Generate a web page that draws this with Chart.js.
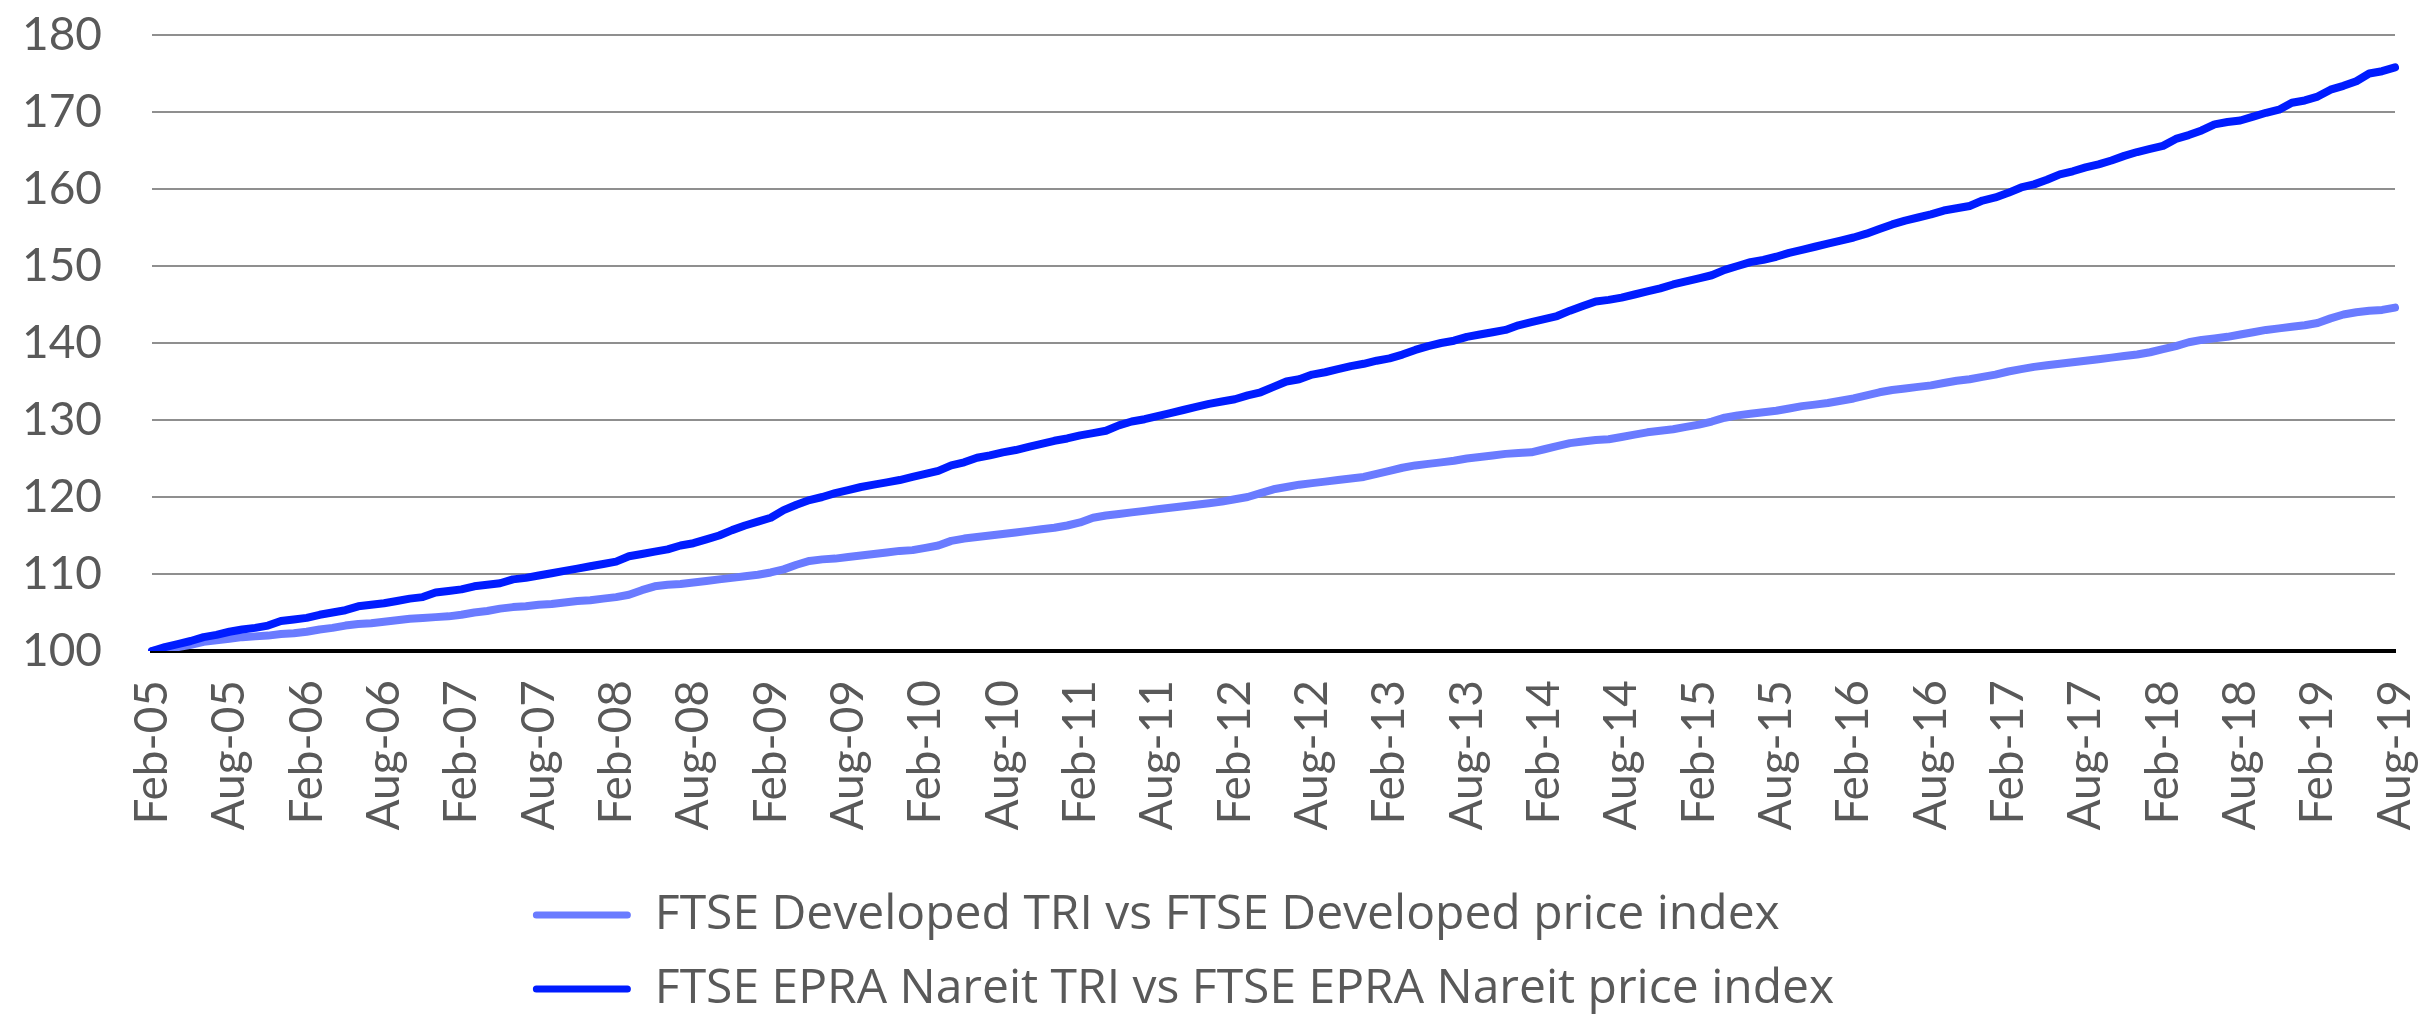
<!DOCTYPE html>
<html>
<head>
<meta charset="utf-8">
<script src="https://cdn.jsdelivr.net/npm/chart.js@4.4.1/dist/chart.umd.min.js"></script>
<style>
  html, body { margin: 0; padding: 0; background: #fff; }
  #wrap { width: 2418px; height: 1023px; }
</style>
</head>
<body>
<div id="wrap"><canvas id="chart"></canvas></div>
<script>
// month categories, Feb-05 .. Aug-19
const MONTH_NAMES = ["Jan", "Feb", "Mar", "Apr", "May", "Jun", "Jul", "Aug", "Sep", "Oct", "Nov", "Dec"];
const months = [];
for (let y = 2005; y <= 2019; y++) {
  for (let m = 0; m < 12; m++) {
    if ((y === 2005 && m < 1) || (y === 2019 && m > 7)) continue;
    months.push(MONTH_NAMES[m] + "-" + String(y).slice(2));
  }
}

const yTicks = [100, 110, 120, 130, 140, 150, 160, 170, 180];

// FTSE Developed TRI vs price index (rebased to 100)
const developed = [
  100.0, 100.2, 100.5, 100.8, 101.2, 101.4, 101.6, 101.8, 101.9, 102.0, 102.2, 102.3,
  102.5, 102.8, 103.0, 103.3, 103.5, 103.6, 103.8, 104.0, 104.2, 104.3, 104.4, 104.5,
  104.7, 105.0, 105.2, 105.5, 105.7, 105.8, 106.0, 106.1, 106.3, 106.5, 106.6, 106.8,
  107.0, 107.3, 107.9, 108.4, 108.6, 108.7, 108.9, 109.1, 109.3, 109.5, 109.7, 109.9,
  110.2, 110.6, 111.2, 111.7, 111.9, 112.0, 112.2, 112.4, 112.6, 112.8, 113.0, 113.1,
  113.4, 113.7, 114.3, 114.6, 114.8, 115.0, 115.2, 115.4, 115.6, 115.8, 116.0, 116.3,
  116.7, 117.3, 117.6, 117.8, 118.0, 118.2, 118.4, 118.6, 118.8, 119.0, 119.2, 119.4,
  119.7, 120.0, 120.5, 121.0, 121.3, 121.6, 121.8, 122.0, 122.2, 122.4, 122.6, 123.0,
  123.4, 123.8, 124.1, 124.3, 124.5, 124.7, 125.0, 125.2, 125.4, 125.6, 125.7, 125.8,
  126.2, 126.6, 127.0, 127.2, 127.4, 127.5, 127.8, 128.1, 128.4, 128.6, 128.8, 129.1,
  129.4, 129.8, 130.3, 130.6, 130.8, 131.0, 131.2, 131.5, 131.8, 132.0, 132.2, 132.5,
  132.8, 133.2, 133.6, 133.9, 134.1, 134.3, 134.5, 134.8, 135.1, 135.3, 135.6, 135.9,
  136.3, 136.6, 136.9, 137.1, 137.3, 137.5, 137.7, 137.9, 138.1, 138.3, 138.5, 138.8,
  139.2, 139.6, 140.1, 140.4, 140.6, 140.8, 141.1, 141.4, 141.7, 141.9, 142.1, 142.3,
  142.6, 143.2, 143.7, 144.0, 144.2, 144.3, 144.6,
];

// FTSE EPRA Nareit TRI vs price index (rebased to 100)
const epraNareit = [
  100.0, 100.5, 100.9, 101.3, 101.8, 102.1, 102.5, 102.8, 103.0, 103.3, 103.9, 104.1,
  104.3, 104.7, 105.0, 105.3, 105.8, 106.0, 106.2, 106.5, 106.8, 107.0, 107.6, 107.8,
  108.0, 108.4, 108.6, 108.8, 109.3, 109.5, 109.8, 110.1, 110.4, 110.7, 111.0, 111.3,
  111.6, 112.3, 112.6, 112.9, 113.2, 113.7, 114.0, 114.5, 115.0, 115.7, 116.3, 116.8,
  117.3, 118.3, 119.0, 119.6, 120.0, 120.5, 120.9, 121.3, 121.6, 121.9, 122.2, 122.6,
  123.0, 123.4, 124.1, 124.5, 125.1, 125.4, 125.8, 126.1, 126.5, 126.9, 127.3, 127.6,
  128.0, 128.3, 128.6, 129.3, 129.8, 130.1, 130.5, 130.9, 131.3, 131.7, 132.1, 132.4,
  132.7, 133.2, 133.6, 134.3, 135.0, 135.3, 135.9, 136.2, 136.6, 137.0, 137.3, 137.7,
  138.0, 138.5, 139.1, 139.6, 140.0, 140.3, 140.8, 141.1, 141.4, 141.7, 142.3, 142.7,
  143.1, 143.5, 144.2, 144.8, 145.4, 145.6, 145.9, 146.3, 146.7, 147.1, 147.6, 148.0,
  148.4, 148.8, 149.5, 150.0, 150.5, 150.8, 151.2, 151.7, 152.1, 152.5, 152.9, 153.3,
  153.7, 154.2, 154.8, 155.4, 155.9, 156.3, 156.7, 157.2, 157.5, 157.8, 158.5, 158.9,
  159.5, 160.2, 160.6, 161.2, 161.9, 162.3, 162.8, 163.2, 163.7, 164.3, 164.8, 165.2,
  165.6, 166.5, 167.0, 167.6, 168.4, 168.7, 168.9, 169.4, 169.9, 170.3, 171.2, 171.5,
  172.0, 172.9, 173.4, 174.0, 175.0, 175.3, 175.8,
];

const TEXT = "#595959";
const LIGHT = "#6A7BFF";
const DARK = "#001CFF";
const TICK_FONT = { family: "Lato, sans-serif", size: 46 };

// keep both legend rows starting at the same x (block sits a little left of centre)
const legendRowAlign = {
  id: "legendRowAlign",
  beforeDraw(chart) {
    const legend = chart.legend;
    if (!legend || !legend.lineWidths) return;
    const widest = Math.max(...legend.lineWidths) + 50;
    legend.lineWidths = legend.lineWidths.map(() => widest);
  },
};

new Chart(document.getElementById("chart"), {
  type: "line",
  data: {
    labels: months,
    datasets: [
      {
        label: "FTSE Developed TRI vs FTSE Developed price index",
        data: developed,
        borderColor: LIGHT,
        backgroundColor: LIGHT,
        borderWidth: 8,
        order: 1,
      },
      {
        label: "FTSE EPRA Nareit TRI vs FTSE EPRA Nareit price index",
        data: epraNareit,
        borderColor: DARK,
        backgroundColor: DARK,
        borderWidth: 8,
        order: 0,
      },
    ],
  },
  options: {
    responsive: true,
    maintainAspectRatio: false,
    animation: false,
    layout: { padding: { left: 22, right: 23, top: 0, bottom: 0 } },
    elements: {
      point: { radius: 0 },
      line: { tension: 0, borderCapStyle: "round", borderJoinStyle: "round" },
    },
    plugins: {
      tooltip: { enabled: false },
      legend: {
        position: "bottom",
        labels: {
          color: TEXT,
          font: { family: "'Open Sans', sans-serif", size: 48 },
          boxWidth: 98,
          boxHeight: 7,
          padding: 26,
          generateLabels(chart) {
            const items = Chart.defaults.plugins.legend.labels.generateLabels(chart);
            return items
              .map((item) => ({ ...item, lineWidth: 0, borderRadius: 3.5 }))
              .sort((a, b) => a.datasetIndex - b.datasetIndex);
          },
        },
      },
    },
    scales: {
      x: {
        grid: { display: false, drawTicks: false },
        border: { display: true, color: "#000000", width: 4 },
        ticks: {
          color: TEXT,
          font: TICK_FONT,
          autoSkip: false,
          minRotation: 90,
          maxRotation: 90,
          padding: 29,
          callback: (value, index) => (index % 6 === 0 ? months[index] : null),
        },
        afterFit(scale) {
          scale.height = 214;
          scale.paddingLeft = 0;
          scale.paddingRight = 0;
        },
      },
      y: {
        min: 100,
        max: 180,
        afterBuildTicks(scale) {
          scale.ticks = yTicks.map((v) => ({ value: v }));
        },
        afterFit(scale) {
          scale.width = 130;
          scale.paddingTop = 35;
          scale.paddingBottom = 0;
        },
        grid: { color: "#8F8F8F", lineWidth: 2, drawTicks: false },
        border: { display: false },
        ticks: {
          color: TEXT,
          font: TICK_FONT,
          padding: 50,
        },
      },
    },
  },
  plugins: [legendRowAlign],
});
</script>
</body>
</html>
